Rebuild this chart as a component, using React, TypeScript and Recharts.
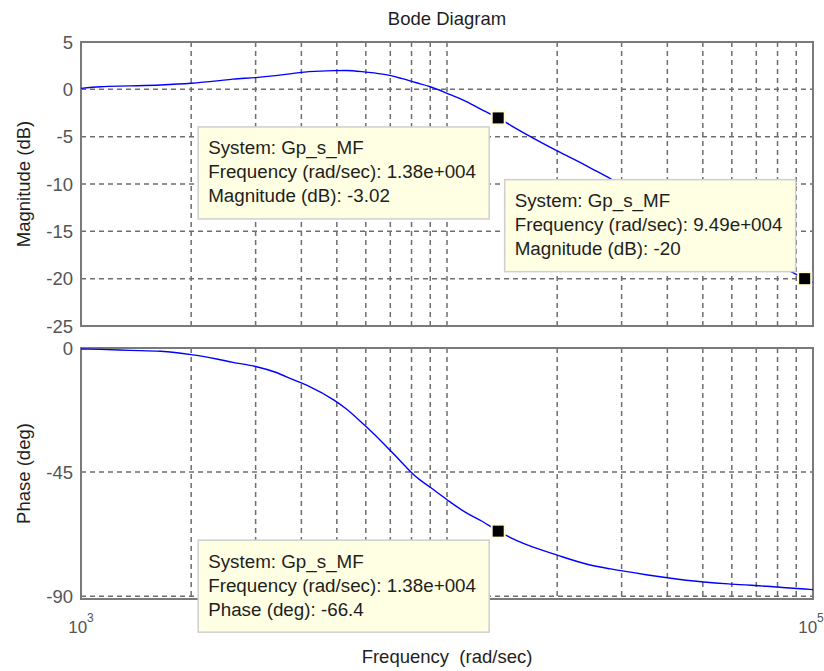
import React from 'react';
import { LineChart, Line, XAxis, YAxis, CartesianGrid, ReferenceArea, ReferenceDot } from 'recharts';

// Closed-loop response Gp_s_MF, sampled in rad/sec
const frequencies = [
  1000, 1130, 1360, 1650, 2000, 2350, 2600, 3000, 3400, 3800, 4200, 4900, 5300, 6000, 6800, 7500,
  8200, 9000, 10000, 11300, 12500, 13800, 15000, 17200, 20000, 24000, 28000, 35000, 45000, 60000,
  75000, 94900, 100000,
];
const magnitudeDb = [
  0.1, 0.28, 0.36, 0.46, 0.64, 0.89, 1.08, 1.24, 1.45, 1.68, 1.87, 1.98, 1.99, 1.82, 1.55, 1.15,
  0.72, 0.27, -0.42, -1.3, -2.2, -3.02, -3.85, -5.15, -6.5, -8.05, -9.45, -11.3, -13.5, -16.0,
  -17.9, -20, -20.4,
];
const phaseDeg = [
  -0.35, -0.5, -0.85, -1.2, -2.4, -4.0, -5.2, -6.7, -8.8, -11.5, -13.9, -18.8, -22.0, -28.4, -35.4, -41.3,
  -46.5, -50.5, -55.0, -59.8, -62.9, -66.4, -68.9, -72.2, -75.1, -78.3, -80.1, -82.2, -84.2, -85.6,
  -86.4, -87.4, -87.6,
];

const gridFrequencies = [
  1000, 2000, 3000, 4000, 5000, 6000, 7000, 8000, 9000,
  10000, 20000, 30000, 40000, 50000, 60000, 70000, 80000, 90000, 100000,
];
const labeledFrequencies = [1000, 100000];
const magnitudeTicks = [5, 0, -5, -10, -15, -20, -25];
const phaseTicks = [0, -45, -90];

const systemName = 'Gp_s_MF';
const magnitudeTips = [
  { f: 13800, value: -3.02 },
  { f: 94900, value: -20 },
];
const phaseTips = [{ f: 13800, value: -66.4 }];

const magData = frequencies.map((f, i) => ({ f, mag: magnitudeDb[i] }));
const phaseData = frequencies.map((f, i) => ({ f, phase: phaseDeg[i] }));

const FONT = '"Liberation Sans", Arial, sans-serif';
const AXIS_GRAY = '#7a7a7a';
const GRID_GRAY = '#6e6e6e';
const TICK_TEXT = '#555';

// MATLAB-style exponent: 1.38e+004
const fmtFreq = (v: number) => {
  const [m, e] = v.toExponential(2).split('e');
  return `${m}e${e[0]}${e.slice(1).padStart(3, '0')}`;
};

const DataTip = ({ cx, cy, lines, below }: any) => {
  const w = 291;
  const h = 92;
  const left = cx - 300;
  const top = below ? cy + 9 : cy - 99;
  return (
    <g>
      <rect x={left} y={top} width={w} height={h} fill="#ffffe3" stroke="#cfcfcf" strokeWidth={1.5} />
      {lines.map((t: string, i: number) => (
        <text key={i} x={left + 10} y={top + 27.5 + i * 24} fontSize={18.8} fontFamily={FONT} fill="#1e1e1e">
          {t}
        </text>
      ))}
      <rect x={cx - 6.5} y={cy - 6.5} width={13} height={13} fill="#000" stroke="#fffbd8" strokeWidth={2} />
    </g>
  );
};

const yLabel = (text: string) => (props: any) => {
  const { x, y, height } = props.viewBox;
  const cx = x + 23;
  const cy = y + height / 2;
  return (
    <text
      x={cx}
      y={cy}
      transform={`rotate(-90, ${cx}, ${cy})`}
      textAnchor="middle"
      dominantBaseline="central"
      fontSize={18.5}
      fontFamily={FONT}
      fill="#1e1e1e"
    >
      {text}
    </text>
  );
};

const titleLabel = (props: any) => {
  const { x, width } = props.viewBox;
  return (
    <text x={x + width / 2} y={25} textAnchor="middle" fontSize={18.5} fontFamily={FONT} fill="#1e1e1e">
      Bode Diagram
    </text>
  );
};

const freqLabel = (props: any) => {
  const { x, y, width } = props.viewBox;
  return (
    <text
      x={x + width / 2}
      y={y + 64}
      textAnchor="middle"
      fontSize={18.5}
      fontFamily={FONT}
      fill="#1e1e1e"
      style={{ whiteSpace: 'pre' }}
    >
      {'Frequency  (rad/sec)'}
    </text>
  );
};

const EmptyTick = () => <g />;

const FreqTick = ({ x, y, payload }: any) => {
  if (!labeledFrequencies.includes(payload.value)) return <g />;
  const exp = Math.round(Math.log10(payload.value));
  const isLast = payload.value === labeledFrequencies[labeledFrequencies.length - 1];
  return (
    <text
      x={isLast ? x - 2 : x}
      y={y + 34}
      textAnchor="middle"
      fontFamily={FONT}
      fill={TICK_TEXT}
      fontSize={17}
    >
      <tspan>10</tspan>
      <tspan dy={-11} fontSize={12}>
        {exp}
      </tspan>
    </text>
  );
};

const tickStyle = { fontSize: 18.5, fill: TICK_TEXT, fontFamily: FONT };

const App: React.FC = () => {
  return (
    <div style={{ position: 'absolute', left: 0, top: 0, width: 824, height: 671, background: '#fff' }}>
      <div style={{ position: 'absolute', left: 0, top: 0 }}>
        <LineChart width={824} height={336} data={magData} margin={{ top: 0, right: 11, bottom: 10, left: 0 }}>
          <XAxis
            dataKey="f"
            type="number"
            scale="log"
            domain={[1000, 100000]}
            allowDataOverflow
            orientation="top"
            height={42}
            ticks={gridFrequencies}
            interval={0}
            tick={<EmptyTick />}
            tickLine={false}
            axisLine={false}
            label={{ content: titleLabel }}
          />
          <YAxis
            type="number"
            domain={[-25, 5]}
            ticks={magnitudeTicks}
            interval={0}
            width={81}
            tickLine={false}
            axisLine={false}
            tick={tickStyle}
            label={{ content: yLabel('Magnitude (dB)') }}
          />
          <CartesianGrid stroke={GRID_GRAY} strokeDasharray="5 4" strokeWidth={1.5} />
          <ReferenceArea x1={1000} x2={100000} y1={-25} y2={5} fill="none" stroke={AXIS_GRAY} strokeWidth={2} />
          <Line
            dataKey="mag"
            type="monotone"
            stroke="#0000ff"
            strokeWidth={1.4}
            dot={false}
            isAnimationActive={false}
          />
          {magnitudeTips.map((t, i) => (
            <ReferenceDot
              key={i}
              x={t.f}
              y={t.value}
              shape={(p: any) => (
                <DataTip
                  cx={p.cx}
                  cy={p.cy}
                  below={i === 0}
                  lines={[`System: ${systemName}`, `Frequency (rad/sec): ${fmtFreq(t.f)}`, `Magnitude (dB): ${t.value}`]}
                />
              )}
            />
          ))}
        </LineChart>
      </div>
      <div style={{ position: 'absolute', left: 0, top: 336 }}>
        <LineChart width={824} height={335} data={phaseData} margin={{ top: 12, right: 11, bottom: 0, left: 0 }}>
          <XAxis
            dataKey="f"
            type="number"
            scale="log"
            domain={[1000, 100000]}
            allowDataOverflow
            height={72}
            ticks={gridFrequencies}
            interval={0}
            tick={<FreqTick />}
            tickSize={0}
            tickMargin={0}
            tickLine={false}
            axisLine={false}
            label={{ content: freqLabel }}
          />
          <YAxis
            type="number"
            domain={[-91, 0]}
            ticks={phaseTicks}
            interval={0}
            width={81}
            tickLine={false}
            axisLine={false}
            tick={tickStyle}
            label={{ content: yLabel('Phase (deg)') }}
          />
          <CartesianGrid stroke={GRID_GRAY} strokeDasharray="5 4" strokeWidth={1.5} />
          <ReferenceArea x1={1000} x2={100000} y1={-91} y2={0} fill="none" stroke={AXIS_GRAY} strokeWidth={2} />
          <Line
            dataKey="phase"
            type="monotone"
            stroke="#0000ff"
            strokeWidth={1.4}
            dot={false}
            isAnimationActive={false}
          />
          {phaseTips.map((t, i) => (
            <ReferenceDot
              key={i}
              x={t.f}
              y={t.value}
              shape={(p: any) => (
                <DataTip
                  cx={p.cx}
                  cy={p.cy}
                  below
                  lines={[`System: ${systemName}`, `Frequency (rad/sec): ${fmtFreq(t.f)}`, `Phase (deg): ${t.value}`]}
                />
              )}
            />
          ))}
        </LineChart>
      </div>
    </div>
  );
};

export default App;
